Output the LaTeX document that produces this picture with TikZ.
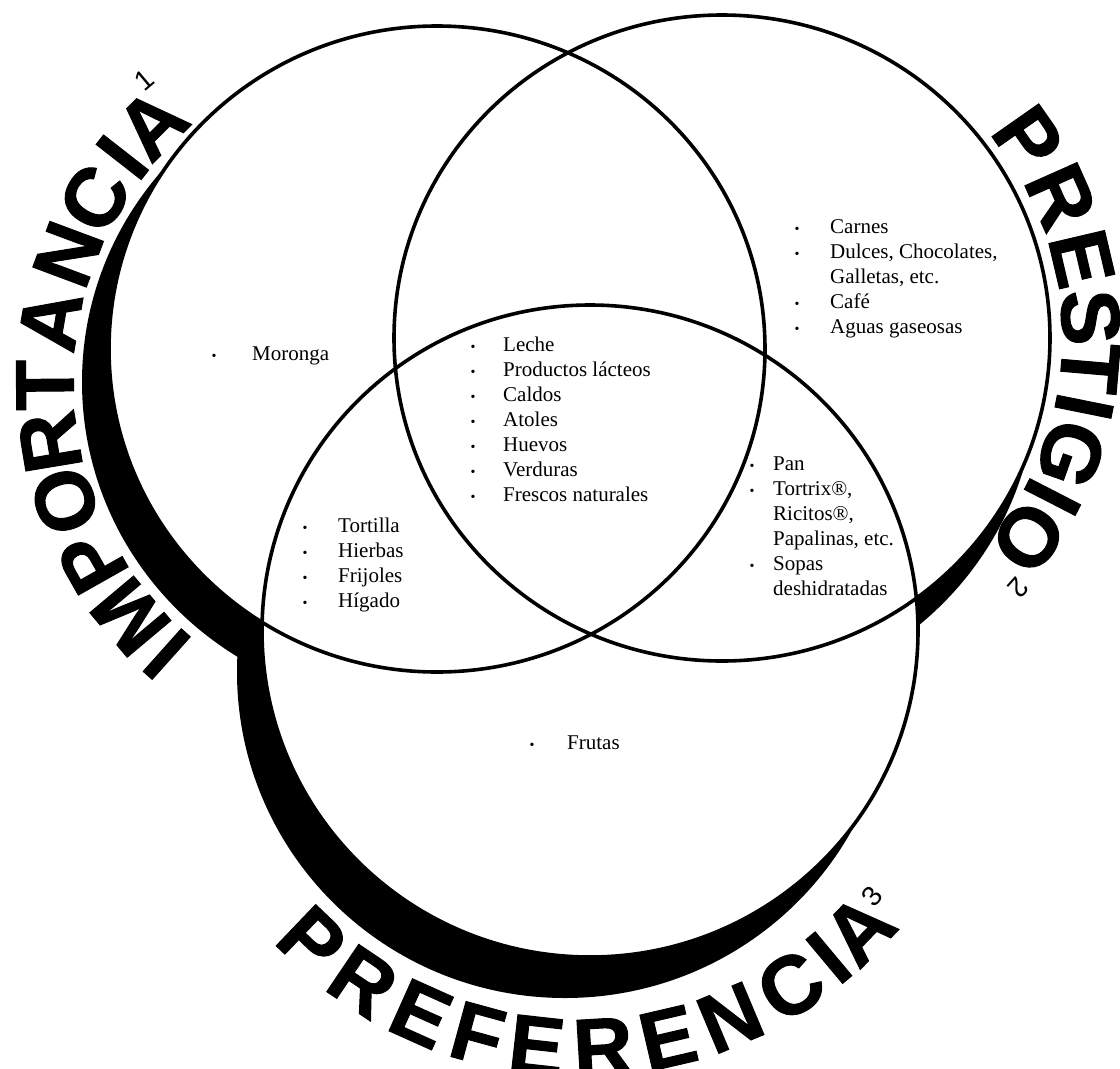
\documentclass[tikz,border=0pt]{standalone}
\usepackage{fontspec}
\setmainfont{Liberation Serif}
\newfontfamily\labfont{Liberation Sans}[FakeBold=1.2]
\newfontfamily\supbase{Liberation Sans}
\newcommand\lblfnt{\labfont\bfseries\fontsize{83}{83}\selectfont}
\newcommand\supfnt{\supbase\fontsize{28}{28}\selectfont}
\newcommand\listfont{\fontsize{21}{25}\selectfont}
\newcommand\bul{{\fontsize{14}{14}\selectfont\textbullet}}
\newcommand\bi[1]{\makebox[#1pt][l]{\bul}}
\newcommand\skipb[1]{\hspace*{#1pt}}
\begin{document}
\begin{tikzpicture}[x=1pt,y=1pt,
  shadow/.style={fill=black},
  disc/.style={fill=white},
  ring/.style={draw=black, line width=3.6pt},
  letter/.style={inner sep=0pt, font=\lblfnt},
  supl/.style={inner sep=0pt, font=\supfnt},
  items/.style={inner sep=0pt, anchor=north west, font=\listfont, align=left}
]
\useasboundingbox[fill=white] (0,0) rectangle (1120,-1069);
% centres
\coordinate (cL) at (437,-349);
\coordinate (cR) at (722,-338);
\coordinate (cB) at (590,-631);
\coordinate (sL) at (410,-382);
\coordinate (sR) at (709,-377);
\coordinate (sB) at (565,-672);
% shadows
\fill[shadow] (sL) ellipse[x radius=328, y radius=323];
\fill[shadow] (sR) ellipse[x radius=328, y radius=323];
\fill[shadow] (sB) ellipse[x radius=328, y radius=326];
% white discs
\fill[disc] (cL) ellipse[x radius=328, y radius=323];
\fill[disc] (cR) ellipse[x radius=328, y radius=323];
\fill[disc] (cB) ellipse[x radius=328, y radius=326];
% outlines
\draw[ring] (cL) ellipse[x radius=328, y radius=323];
\draw[ring] (cR) ellipse[x radius=328, y radius=323];
\draw[ring] (cB) ellipse[x radius=328, y radius=326];
% IMPORTANCIA
\foreach \ch/\a [count=\k] in {I/228.2,M/220.0,P/209.5,O/199.0,R/189.5,T/180.5,A/170.3,N/159.5,C/149.8,I/142.0,A/135.0}
  \node[letter, rotate=\a-90] (imp\k) at ([shift={(\a:365)}]sL) {\ch};
\node[supl, rotate=40] (sup1) at (144,-80) {1};
% PRESTIGIO
\foreach \ch/\a [count=\k] in {P/35.0,R/24.0,E/13.2,S/3.4,T/-4.9,I/-11.4,G/-19.5,I/-27.2,O/-34.9}
  \node[letter, rotate=\a-90] (pre\k) at ([shift={(\a:348)}]743,-338) {\ch};
\node[supl, rotate=-132] (sup2) at (1019,-588) {2};
% PREFERENCIA
\foreach \ch/\a [count=\k] in {P/226.3,R/236.0,E/245.8,F/254.7,E/263.6,R/273.4,E/283.1,N/292.8,C/302.9,I/309.9,A/316.0}
  \node[letter, rotate=\a+90] (pf\k) at ([shift={(\a:388)}]580,-660) {\ch};
\node[supl, rotate=50] (sup3) at (872,-896) {3};
% lists
\node[items] (moronga) at (211.5,-343) {\begin{tabular}{@{}l@{}}\bi{40.5}Moronga\end{tabular}};
\node[items] (centro) at (470.5,-334) {\begin{tabular}{@{}l@{}}
\bi{32.5}Leche\\ \bi{32.5}Productos lácteos\\ \bi{32.5}Caldos\\ \bi{32.5}Atoles\\
\bi{32.5}Huevos\\ \bi{32.5}Verduras\\ \bi{32.5}Frescos naturales\end{tabular}};
\node[items] (prestigio) at (794.5,-216) {\begin{tabular}{@{}l@{}}
\bi{35.5}Carnes\\ \bi{35.5}Dulces, Chocolates,\\ \skipb{35.5}Galletas, etc.\\
\bi{35.5}Café\\ \bi{35.5}Aguas gaseosas\end{tabular}};
\node[items] (pan) at (749.5,-453) {\begin{tabular}{@{}l@{}}
\bi{23.5}Pan\\ \bi{23.5}Tortrix®,\\ \skipb{23.5}Ricitos®,\\ \skipb{23.5}Papalinas, etc.\\
\bi{23.5}Sopas\\ \skipb{23.5}deshidratadas\end{tabular}};
\node[items] (tortilla) at (302.5,-515) {\begin{tabular}{@{}l@{}}
\bi{35.5}Tortilla\\ \bi{35.5}Hierbas\\ \bi{35.5}Frijoles\\ \bi{35.5}Hígado\end{tabular}};
\node[items] (frutas) at (529.5,-732) {\begin{tabular}{@{}l@{}}\bi{37.5}Frutas\end{tabular}};
\end{tikzpicture}
\end{document}
